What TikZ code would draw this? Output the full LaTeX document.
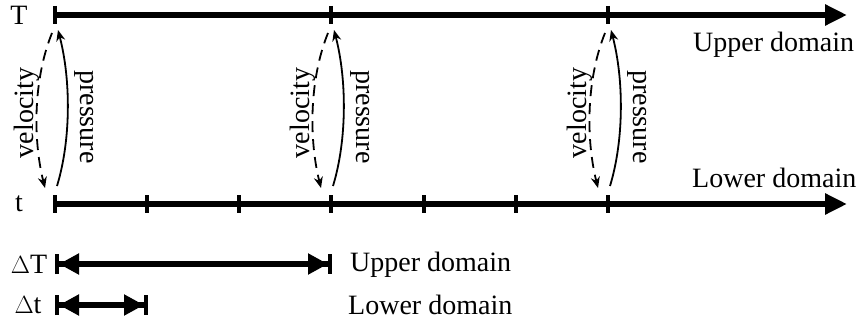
\documentclass[tikz,border=0pt]{standalone}
\usepackage{fontspec}
\setmainfont{Liberation Serif}
\usetikzlibrary{arrows.meta}
\begin{document}
\begin{tikzpicture}[x=1pt,y=-1pt,
  axis/.style={line width=6pt,-{Triangle[length=22pt,width=20pt]}},
  tick/.style={line width=4pt},
  lbl/.style={font=\fontsize{28}{30}\selectfont,inner sep=0pt},
  vel/.style={line width=1.8pt,dash pattern=on 11pt off 7pt,-{Stealth[length=11pt,width=9pt]}},
  pres/.style={line width=1.8pt,-{Stealth[length=11pt,width=9pt]}},
  span/.style={line width=5.5pt,{Bar[width=20pt,line width=4pt]Triangle[length=20pt,width=20pt]}-{Triangle[length=20pt,width=20pt]Bar[width=20pt,line width=4pt]}}]
\useasboundingbox (0,0) rectangle (858,326);
% axes
\coordinate (U0) at (55,15);
\coordinate (U1) at (847,15);
\coordinate (L0) at (55,204);
\coordinate (L1) at (847,204);
\draw[axis] (U0) -- (U1);
\draw[axis] (L0) -- (L1);
\node[lbl] (T) at (19,15) {T};
\node[lbl] (t) at (19,204) {t};
\node[lbl,anchor=west] (ud) at (693,45) {Upper domain};
\node[lbl,anchor=west] (ld) at (692,178) {Lower domain};
% ticks
\foreach \x in {55,331,608} \draw[tick] (\x,6) -- (\x,24);
\foreach \x in {55,147,239,331,424,516,608} \draw[tick] (\x,195) -- (\x,213);
% exchange arrows
\foreach \x/\n in {55/a,331/b,608/c} {
  \coordinate (vs\n) at (\x-3,33);
  \coordinate (ve\n) at (\x-10,188);
  \coordinate (ps\n) at (\x+2,186);
  \coordinate (pe\n) at (\x+3,30);
  \draw[vel] (vs\n) .. controls (\x-22,80) and (\x-22,140) .. (ve\n);
  \draw[pres] (ps\n) .. controls (\x+16,140) and (\x+16,80) .. (pe\n);
  \node[lbl,rotate=90] (v\n) at (\x-28,113) {velocity};
  \node[lbl,rotate=-90] (p\n) at (\x+29,117) {pressure};
}
% step sizes
\node[lbl] (DT) at (29,264) {$\Delta$T};
\node[lbl] (Dt) at (28,305) {$\Delta$t};
\coordinate (DT0) at (55,264);
\coordinate (DT1) at (332,264);
\coordinate (Dt0) at (55,305);
\coordinate (Dt1) at (148,305);
\draw[span] (DT0) -- (DT1);
\draw[span] (Dt0) -- (Dt1);
\node[lbl,anchor=west] (ud2) at (350,265) {Upper domain};
\node[lbl,anchor=west] (ld2) at (348,305) {Lower domain};
\end{tikzpicture}
\end{document}
